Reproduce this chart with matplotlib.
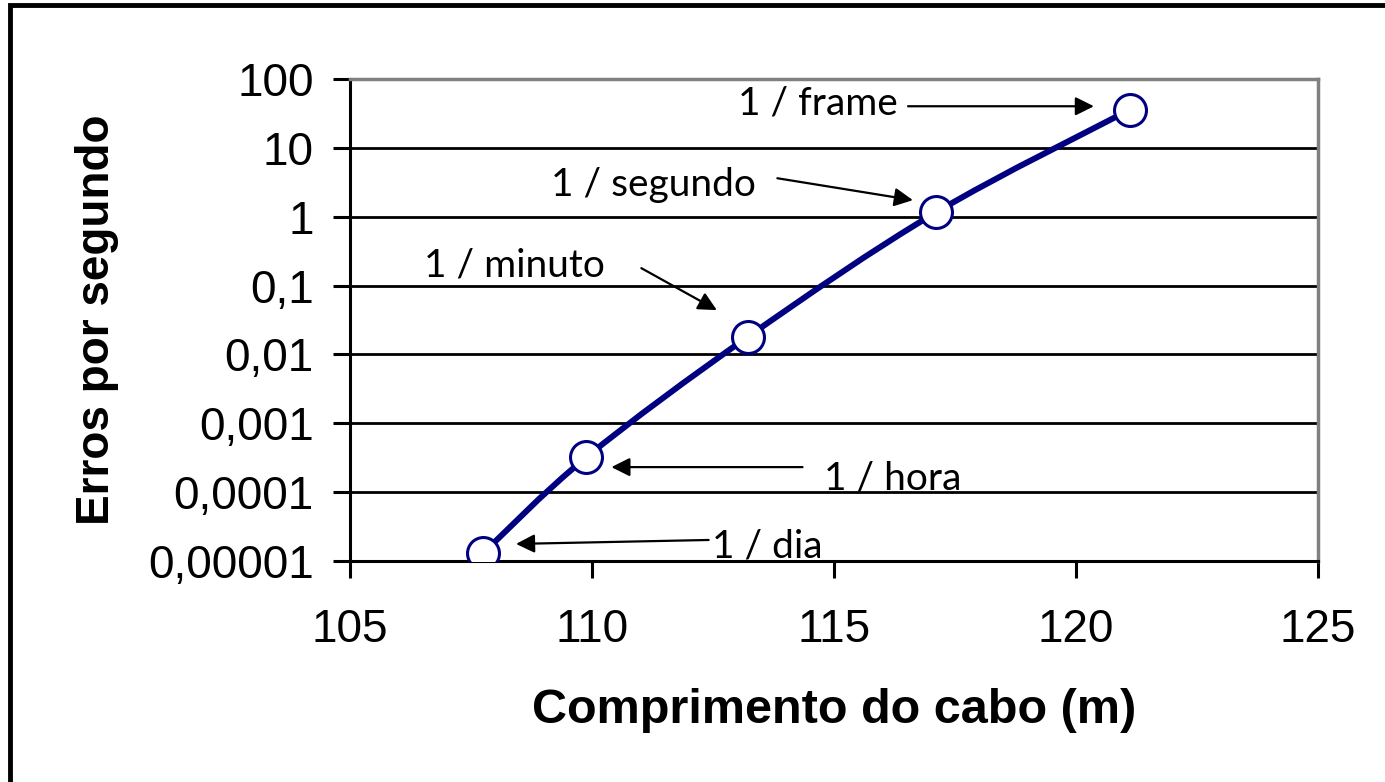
import numpy as np
import matplotlib
matplotlib.use("Agg")
import matplotlib.pyplot as plt
from matplotlib.path import Path
from matplotlib.patches import PathPatch, Rectangle
from matplotlib.ticker import FixedLocator, FixedFormatter

# data
comprimento = [107.75, 109.88, 113.22, 117.11, 121.12]
erros = [1.3e-5, 3.2e-4, 0.018, 1.16, 36.0]

yticks = [1e-5, 1e-4, 1e-3, 1e-2, 1e-1, 1, 10, 100]
ytick_labels = ["0,00001", "0,0001", "0,001", "0,01", "0,1", "1", "10", "100"]
xticks = [105, 110, 115, 120, 125]

# annotations: label, text pos, arrow tail, arrow head
notas = [
    ("1 / frame", (114.66, 44.0), (116.53, 40.2), (120.37, 40.2)),
    ("1 / segundo", (111.27, 2.87), (113.83, 3.62), (116.63, 1.74)),
    ("1 / minuto", (108.39, 0.198), (111.02, 0.179), (112.58, 0.044)),
    ("1 / hora", (116.21, 1.6e-4), (114.35, 2.31e-4), (110.40, 2.31e-4)),
    ("1 / dia", (113.62, 1.6e-5), (112.41, 2.02e-5), (108.43, 1.77e-5)),
]

NAVY = "#000080"

fig = plt.figure(figsize=(13.85, 7.82), dpi=100)
ax = fig.add_axes([350 / 1385, 1 - 561 / 782, 968 / 1385, 482 / 782])

ax.set_yscale("log")
ax.set_xlim(105, 125)
ax.set_ylim(1e-5, 100)

# smooth curve (Excel-like) through the points, built in (x, log y) space
lx = np.array(comprimento)
ly = np.log10(erros)
pts = np.column_stack([lx, ly])
verts = [pts[0]]
codes = [Path.MOVETO]
n = len(pts)
for i in range(n - 1):
    p0 = pts[i - 1] if i > 0 else pts[i]
    p1 = pts[i]
    p2 = pts[i + 1]
    p3 = pts[i + 2] if i + 2 < n else pts[i + 1]
    c1 = p1 + (p2 - p0) / 6
    c2 = p2 - (p3 - p1) / 6
    verts += [c1, c2, p2]
    codes += [Path.CURVE4] * 3
verts = np.array(verts)
verts[:, 1] = 10 ** verts[:, 1]
ax.add_patch(PathPatch(Path(verts, codes), facecolor="none", edgecolor=NAVY,
                       lw=4.3, zorder=3, capstyle="round", joinstyle="round"))

ax.plot(comprimento, erros, ls="none", marker="o", ms=23, mfc="white",
        mec=NAVY, mew=2.2, zorder=4)

# grid
for yt in yticks:
    ax.axhline(yt, color="black", lw=2.0, zorder=1)

ax.yaxis.set_major_locator(FixedLocator(yticks))
ax.yaxis.set_major_formatter(FixedFormatter(ytick_labels))
ax.yaxis.set_minor_locator(FixedLocator([]))
ax.set_xticks(xticks)
ax.set_xticklabels([str(v) for v in xticks])

ax.tick_params(axis="both", direction="out", length=12, width=2.2,
               color="black", labelsize=33)
ax.tick_params(axis="y", pad=14)
ax.tick_params(axis="x", pad=22)
for lab in ax.get_xticklabels() + ax.get_yticklabels():
    lab.set_fontfamily("Liberation Sans")

ax.spines["left"].set_color("black")
ax.spines["left"].set_linewidth(2.2)
ax.spines["bottom"].set_color("black")
ax.spines["bottom"].set_linewidth(2.2)
ax.spines["top"].set_color("#808080")
ax.spines["top"].set_linewidth(2.5)
ax.spines["right"].set_color("#808080")
ax.spines["right"].set_linewidth(2.5)

ax.set_xlabel("Comprimento do cabo (m)", fontsize=35, fontweight="bold",
              family="Liberation Sans", labelpad=26)
ax.set_ylabel("Erros por segundo", fontsize=33, fontweight="bold",
              family="Liberation Sans", labelpad=21)

for txt, tpos, tail, head in notas:
    ax.text(tpos[0], tpos[1], txt, fontsize=28, family="Lato",
            ha="center", va="center", zorder=5)
    ax.annotate("", xy=head, xytext=tail,
                arrowprops=dict(arrowstyle="-|>", color="black", lw=1.6,
                                mutation_scale=28, shrinkA=0, shrinkB=0),
                zorder=5)

# outer frame (left and top visible)
fig.patches.append(Rectangle((10 / 1385, -0.05), 1.1, 1 - 5 / 782 + 0.05,
                             transform=fig.transFigure, fill=False,
                             edgecolor="black", lw=3.5))

fig.savefig("out.png", dpi=100, facecolor="white")
